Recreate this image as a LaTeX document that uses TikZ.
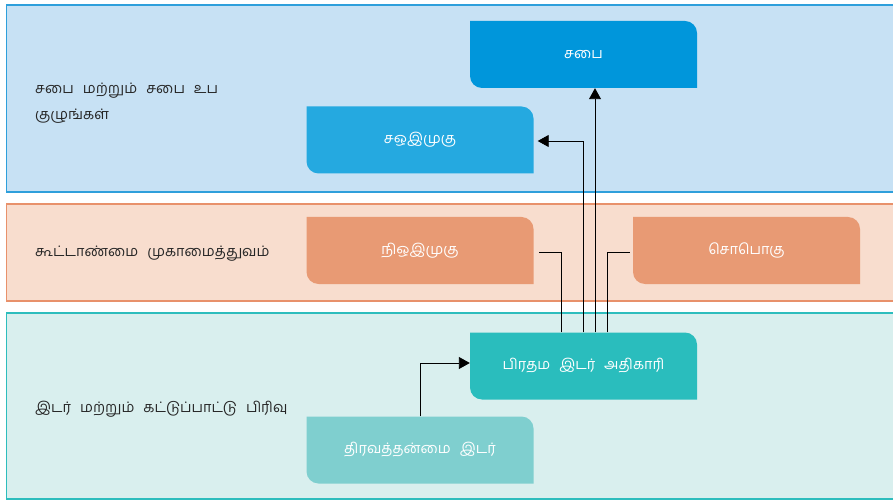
\documentclass[tikz,border=0pt]{standalone}
\usepackage{fontspec}
\newfontfamily\tamil[Script=Tamil]{Hind Madurai}
\newcommand\tfont{\tamil\fontsize{14.5}{26}\selectfont\spaceskip=9pt plus 2pt\relax}
\usetikzlibrary{arrows.meta}
\definecolor{bandA}{HTML}{C7E1F4}
\definecolor{bandAline}{HTML}{2E9FDB}
\definecolor{bandB}{HTML}{F8DDCE}
\definecolor{bandBline}{HTML}{E8916B}
\definecolor{bandC}{HTML}{D9EFEE}
\definecolor{bandCline}{HTML}{2DBDBD}
\definecolor{cSabai}{HTML}{0096DB}
\definecolor{cSub}{HTML}{25A9E0}
\definecolor{cPeach}{HTML}{E89A74}
\definecolor{cCro}{HTML}{2ABDBD}
\definecolor{cLiq}{HTML}{7FCFCF}
\newcommand\mkbox[5]{%
  \fill[#4] (#2-113.5,#3+33.5) -- (#2+101.5,#3+33.5) arc[start angle=90,end angle=0,radius=12] -- (#2+113.5,#3-33.5) -- (#2-101.5,#3-33.5) arc[start angle=270,end angle=180,radius=12] -- cycle;
  \node[boxtext] (#1) at (#2,#3) {\raisebox{-2.5pt}{#5}};}
\begin{document}
\begin{tikzpicture}[x=1pt,y=1pt,
  boxtext/.style={minimum width=227pt,minimum height=67pt,inner sep=0pt,text=white,font=\tfont},
  lbl/.style={anchor=west,inner sep=0pt,text=black!85,font=\tfont,align=left},
  conn/.style={line width=0.9pt,black},
  arr/.style={conn,-{Triangle[length=11pt,width=12pt]}}]
\useasboundingbox (0,0) rectangle (893,501);
\begin{scope}
\clip (0,0) rectangle (893,501);
\filldraw[fill=bandA,draw=bandAline,line width=1.2pt] (6.5,309) rectangle (905,496);
\filldraw[fill=bandB,draw=bandBline,line width=1.2pt] (6.5,200) rectangle (905,297);
\filldraw[fill=bandC,draw=bandCline,line width=1.2pt] (6.5,2) rectangle (905,188);
\end{scope}
\node[lbl] (l1) at (35,398) {சபை மற்றும் சபை உப\\குழுங்கள்};
\node[lbl] (l2) at (35,247) {கூட்டாண்மை முகாமைத்துவம்};
\node[lbl] (l3) at (35,92) {இடர் மற்றும் கட்டுப்பாட்டு பிரிவு};
\mkbox{sabai}{583.5}{446.5}{cSabai}{சபை}
\mkbox{sub}{420}{361}{cSub}{சஒஇமுகு}
\mkbox{ni}{420}{250.5}{cPeach}{நிஒஇமுகு}
\mkbox{so}{746.5}{250.5}{cPeach}{சொபொகு}
\mkbox{cro}{583.5}{135}{cCro}{பிரதம இடர் அதிகாரி}
\mkbox{liq}{420}{51}{cLiq}{திரவத்தன்மை இடர்}
\draw[arr] (liq.north) |- ([yshift=3]cro.west);
\draw[arr] ([xshift=11.5]cro.north) -- ([xshift=11.5]sabai.south);
\draw[arr] (cro.north) |- ([xshift=4,yshift=-1]sub.east);
\draw[conn] ([xshift=-22.5]cro.north) |- ([xshift=5,yshift=-1.5]ni.east);
\draw[conn] ([xshift=23.5]cro.north) |- ([xshift=-3,yshift=-1.5]so.west);
\end{tikzpicture}
\end{document}
